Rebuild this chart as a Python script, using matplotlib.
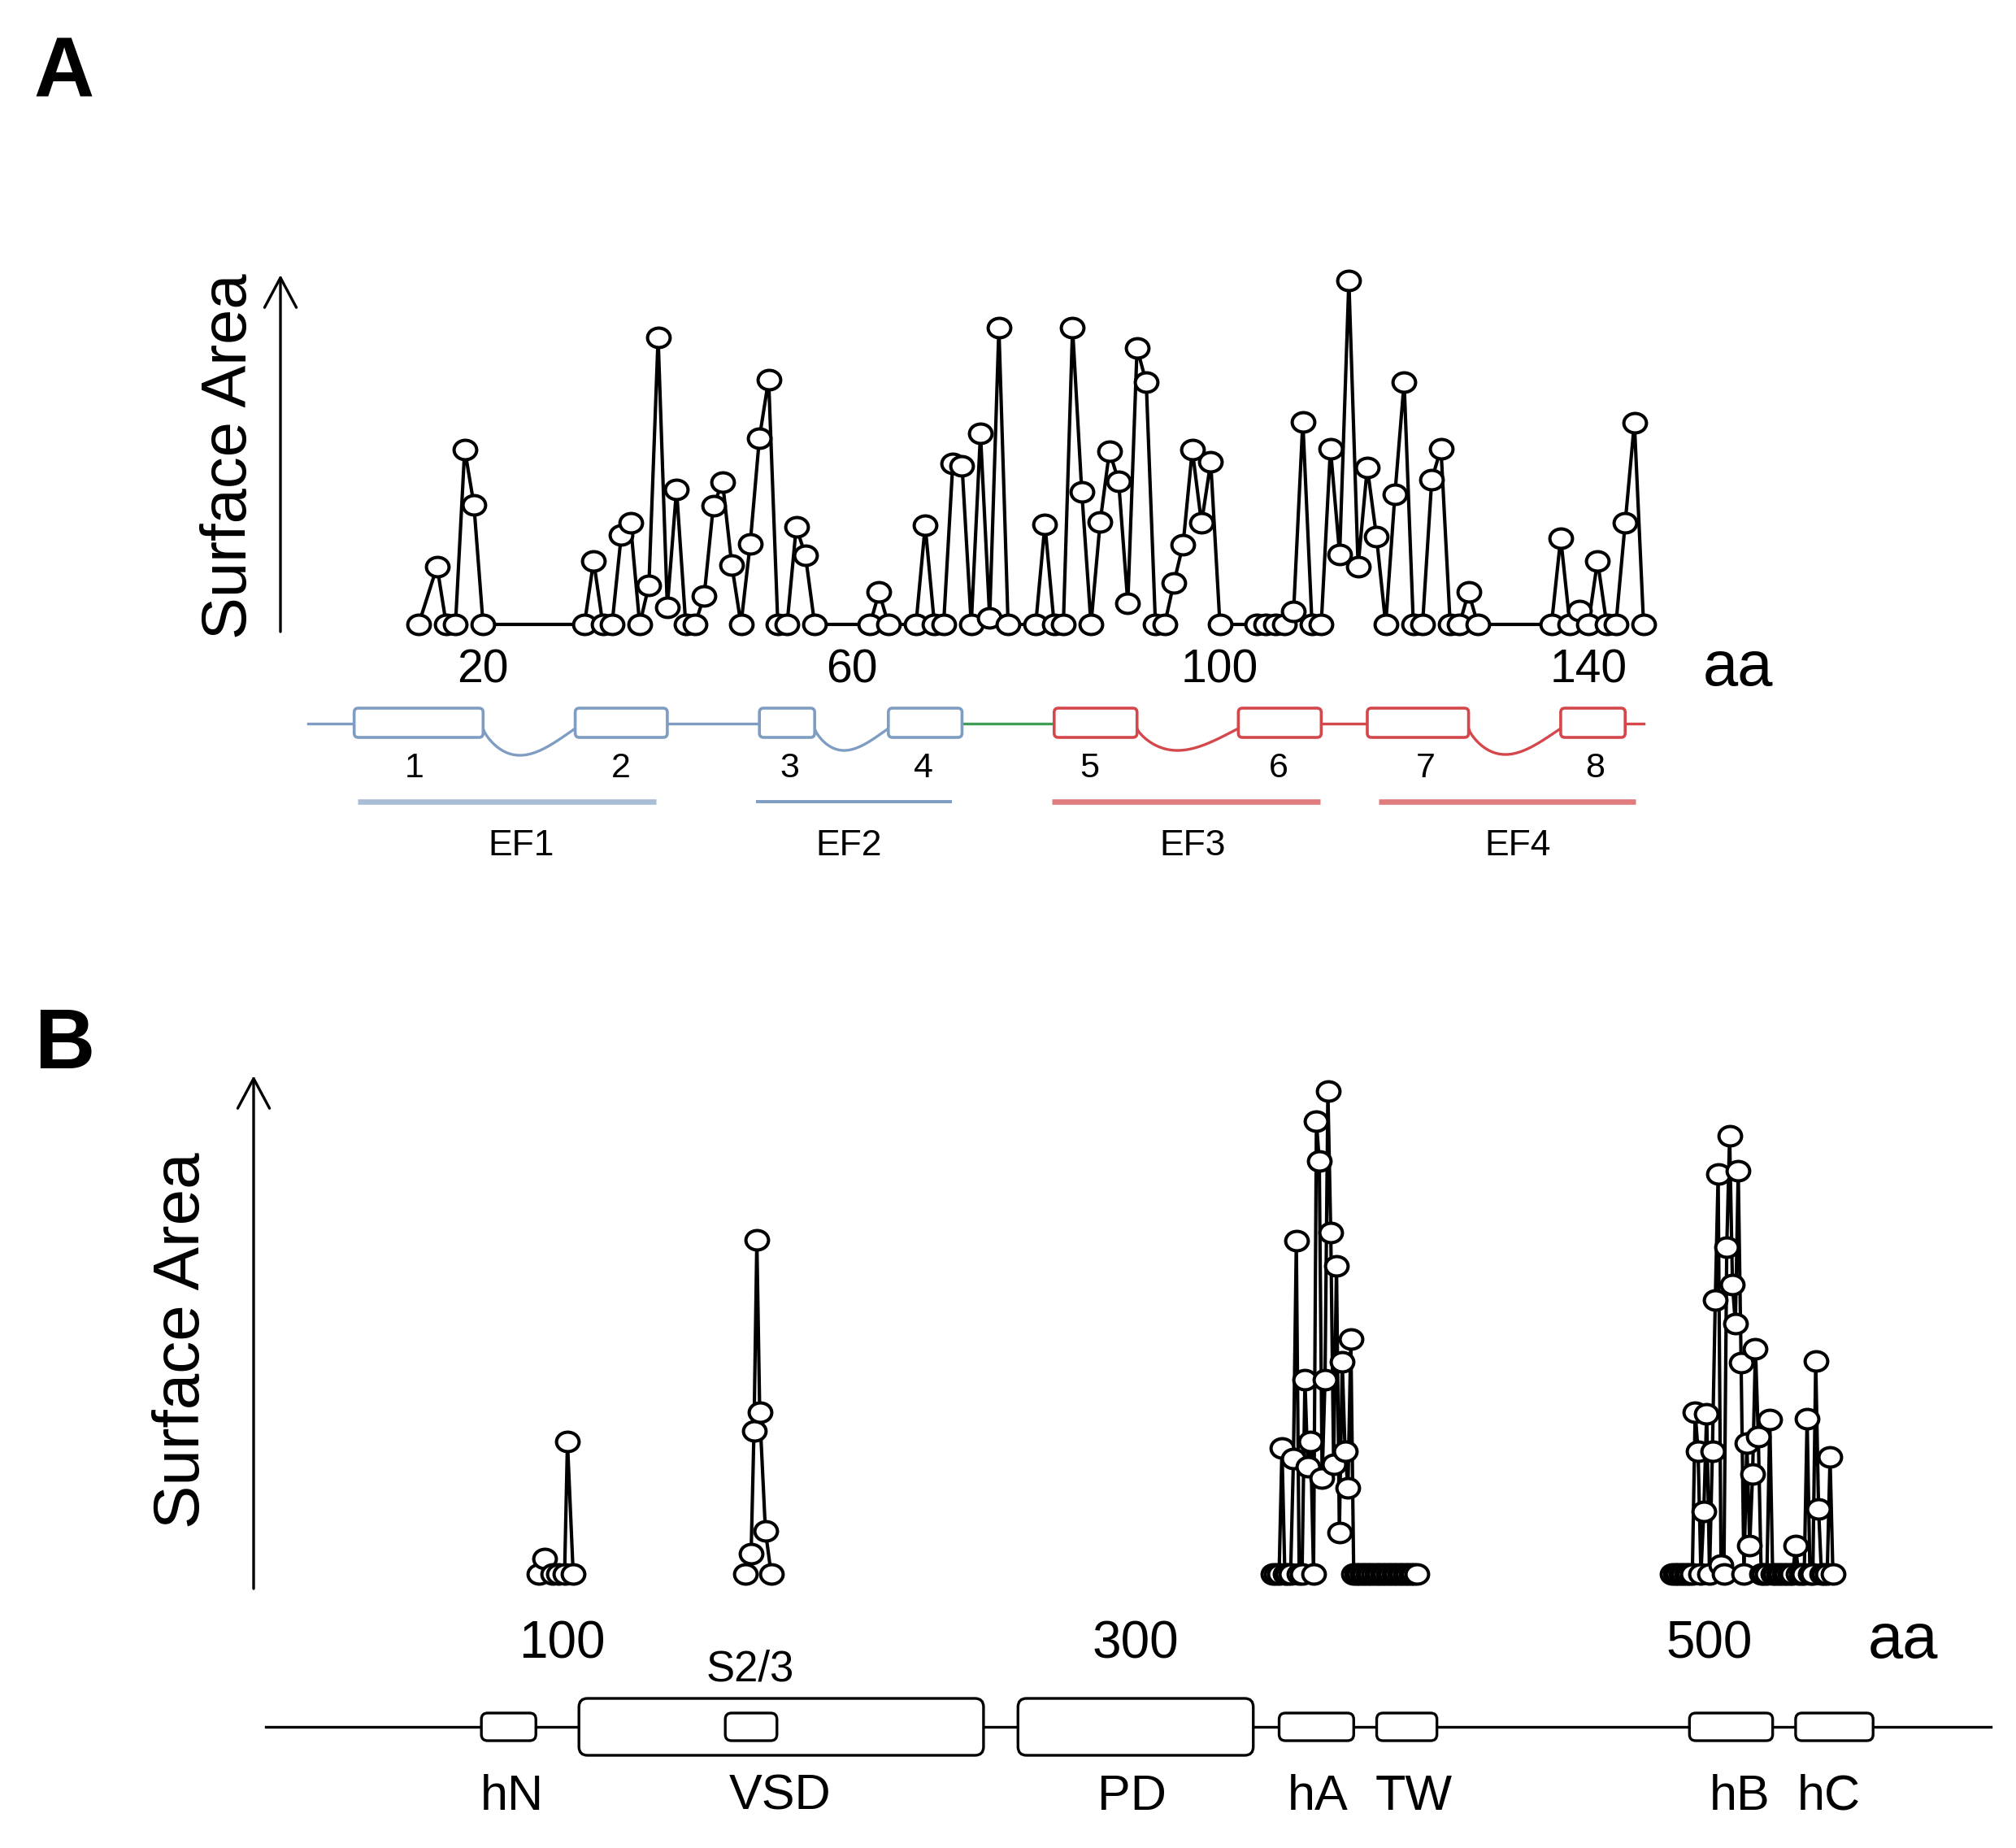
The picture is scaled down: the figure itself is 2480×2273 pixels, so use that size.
import numpy as np
import matplotlib
matplotlib.use('Agg')
import matplotlib.pyplot as plt
from matplotlib.path import Path
from matplotlib.transforms import Affine2D, blended_transform_factory
from matplotlib.patches import FancyBboxPatch
from matplotlib.markers import MarkerStyle

plt.rcParams['font.family'] = ['Liberation Sans', 'DejaVu Sans']

# ---------------- data: panel A (residue, surface area, arbitrary units) ----
a_res = [13, 15, 16, 17, 18, 19, 20,
         31, 32, 33, 34, 35, 36, 37, 38, 39, 40, 41, 42, 43, 44, 45, 46, 47,
         48, 49, 50, 51, 52, 53, 54, 55, 56,
         62, 63, 64,
         67, 68, 69, 70, 71, 72, 73, 74, 75, 76, 77,
         80, 81, 82, 83, 84, 85, 86, 87, 88, 89, 90, 91, 92, 93, 94, 95, 96,
         97, 98, 99, 100,
         104, 105, 106, 107, 108, 109, 110, 111, 112, 113, 114, 115, 116, 117,
         118, 119, 120, 121, 122, 123, 124, 125, 126, 127, 128,
         136, 137, 138, 139, 140, 141, 142, 143, 144, 145, 146]
a_area = [0, 16.8, 0, 0, 50.7, 34.7, 0,
          0, 18.4, 0, 0, 25.8, 29.3, 0, 11.3, 83.1, 5.0, 39.1, 0, 0, 8.2, 34.4, 41.1, 17.2,
          0, 23.4, 54.0, 70.9, 0, 0, 28.2, 19.9, 0,
          0, 9.3, 0,
          0, 28.6, 0, 0, 46.6, 46.0, 0, 55.2, 1.9, 85.8, 0,
          0, 28.9, 0, 0, 85.8, 38.4, 0, 29.7, 50.1, 41.5, 6.2, 79.9, 70.1, 0, 0, 12.1, 23.1,
          50.5, 29.3, 47.0, 0,
          0, 0, 0, 0, 3.8, 58.7, 0, 0, 50.9, 20.3, 99.5, 16.8, 45.4, 25.4,
          0, 37.6, 70.1, 0, 0, 41.9, 50.9, 0, 0, 9.3, 0,
          0, 25.0, 0, 3.9, 0, 18.4, 0, 0, 29.3, 58.4, 0]
a_ticks = [20, 60, 100, 140]

a_helix_start = [6, 30, 50, 64, 82, 102, 116, 137]
a_helix_end = [20, 40, 56, 72, 91, 111, 127, 144]
a_helix_label_x = [12.5, 35, 53.3, 67.8, 85.8, 106.4, 122.3, 140.7]
a_chain = [1, 146]
a_ef_names = ['EF1', 'EF2', 'EF3', 'EF4']
a_ef_start = [6.4, 49.6, 81.8, 117.2]
a_ef_end = [38.8, 70.9, 110.9, 145.1]
a_ef_label_x = [24.1, 59.7, 97.0, 132.3]

# ---------------- data: panel B -------------------------------------------
b_res_1 = [92, 94, 97, 99, 101, 102, 104]
b_area_1 = [0, 3.2, 0, 0, 0, 27.2, 0]
b_res_2 = [164, 166, 167, 168, 169, 171, 173]
b_area_2 = [0, 4.1, 29.4, 68.7, 33.3, 8.8, 0]
b_res_3 = list(range(348, 399))
b_area_3 = [0, 0, 0, 25.9, 0, 0, 0, 23.8, 68.5, 0, 0, 39.9, 22.1, 27.3, 0, 93.1,
            84.9, 19.7, 39.9, 99.3, 70.2, 22.5, 63.4, 8.5, 43.6, 25.2, 17.7, 48.4,
            0, 0, 0, 0, 0, 0, 0, 0, 0, 0, 0, 0, 0, 0, 0, 0, 0, 0, 0, 0, 0, 0, 0]
b_res_4 = list(range(487, 544))
b_area_4 = [0, 0, 0, 0, 0, 0, 0, 0,
            33.3, 25.3, 0, 12.8, 33.0, 0, 25.3, 56.3, 82.2, 1.9, 0, 67.2, 90.2,
            59.5, 51.5, 82.9, 43.5, 0, 26.9, 5.8, 20.5, 46.4, 28.2, 0, 0, 0, 31.7,
            0, 0, 0, 0, 0, 0, 0, 0, 5.8, 0, 0, 0, 32.0, 0, 0, 43.8, 13.4, 0, 0, 0,
            24.0, 0]
b_ticks = [100, 300, 500]

b_chain = [-3, 598]
b_dom_names = ['hN', 'VSD', 'S2/3', 'PD', 'hA', 'TW', 'hB', 'hC']
b_dom_start = [72, 106, 157, 259, 350, 384, 493, 530]
b_dom_end = [91, 247, 175, 341, 376, 405, 522, 557]
b_dom_big = [False, True, False, True, False, False, False, False]
b_dom_label_x = [82.7, 176, 165.7, 298.6, 363.5, 396.9, 510.5, 541.6]

# ---------------- figure ----------------------------------------------------
W, H = 2480, 2273
DPI = 200
fig = plt.figure(figsize=(W / DPI, H / DPI), dpi=DPI)
fig.patch.set_facecolor('white')

ov = fig.add_axes([0, 0, 1, 1])
ov.set_xlim(0, W)
ov.set_ylim(H, 0)
ov.axis('off')


def data_axes(x_lim, y_lim, px_x0, px_per_x, px_y0, px_per_y):
    left = px_x0 + x_lim[0] * px_per_x
    right = px_x0 + x_lim[1] * px_per_x
    bottom = px_y0 - y_lim[0] * px_per_y
    top = px_y0 - y_lim[1] * px_per_y
    ax = fig.add_axes([left / W, 1 - bottom / H, (right - left) / W, (bottom - top) / H])
    ax.set_xlim(*x_lim)
    ax.set_ylim(*y_lim)
    ax.axis('off')
    ax.patch.set_alpha(0)
    return ax


ell = Path.unit_circle().transformed(Affine2D().scale(1.0, 0.86))
mk = MarkerStyle(ell)
mkw = dict(marker=mk, ms=10.0, mfc='white', mec='black', mew=1.45,
           color='black', lw=1.5, clip_on=False)

BLUE = '#7f9dc2'
BLUE_L = '#a9bdd5'
RED = '#d4474a'
RED_L = '#e07c7e'
GREEN = '#3f9e55'

arrow_props = dict(arrowstyle='->,head_length=0.6,head_width=0.32',
                   lw=1.2, color='black', mutation_scale=22,
                   shrinkA=0, shrinkB=0)

# ---------------- panel A ---------------------------------------------------
axA = data_axes((0, 160), (-10, 110), 367.7, 11.33, 768, 4.25)
axA.plot(a_res, a_area, **mkw)
trA = blended_transform_factory(axA.transData, ov.transData)

for t in a_ticks:
    axA.text(t, 825, str(t), transform=trA, ha='center', va='center', fontsize=20.5)
ov.text(2138, 822, 'aa', ha='center', va='center', fontsize=28)

ov.text(79, 92, 'A', ha='center', va='center', fontsize=37, fontweight='bold')
ov.text(283, 561, 'Surface Area', rotation=90, ha='center', va='center', fontsize=28)
ov.annotate('', xy=(345, 338), xytext=(345, 777), arrowprops=arrow_props)

# domain diagram A
yc, yt, yb = 890, 871, 907
helix_col = [BLUE, BLUE, BLUE, BLUE, RED, RED, RED, RED]
seg = [(a_chain[0], a_helix_start[0], BLUE),
       (a_helix_end[1], a_helix_start[2], BLUE),
       (a_helix_end[3], a_helix_start[4], GREEN),
       (a_helix_end[5], a_helix_start[6], RED),
       (a_helix_end[7], a_chain[1], RED)]
for x0, x1, c in seg:
    axA.plot([x0, x1], [yc, yc], transform=trA, color=c, lw=1.2, clip_on=False)
depths = [33, 27, 27, 32]
for k, i in enumerate([0, 2, 4, 6]):
    x0, x1 = a_helix_end[i], a_helix_start[i + 1]
    t = np.linspace(0, 1, 80)
    s = t ** 0.756
    yy = (yc + 6) + depths[k] * np.sin(np.pi * s)
    xx = x0 + (x1 - x0) * t
    axA.plot(xx, yy, transform=trA, color=helix_col[i], lw=1.2, clip_on=False)
for i in range(8):
    x0, x1 = a_helix_start[i], a_helix_end[i]
    p = FancyBboxPatch((x0, yt), x1 - x0, yb - yt,
                       boxstyle='round,pad=0,rounding_size=0.45',
                       mutation_aspect=11.33, transform=trA,
                       fc='white', ec=helix_col[i], lw=1.3, clip_on=False, zorder=3)
    axA.add_patch(p)
    axA.text(a_helix_label_x[i], 945, str(i + 1), transform=trA,
             ha='center', va='center', fontsize=15.5)
ef_col = [BLUE_L, BLUE, RED_L, RED_L]
ef_lw = [2.4, 1.4, 2.4, 2.4]
for i in range(4):
    axA.plot([a_ef_start[i], a_ef_end[i]], [986, 986], transform=trA,
             color=ef_col[i], lw=ef_lw[i], clip_on=False, solid_capstyle='butt')
    axA.text(a_ef_label_x[i], 1040, a_ef_names[i], transform=trA,
             ha='center', va='center', fontsize=16)

# ---------------- panel B ---------------------------------------------------
axB = data_axes((0, 600), (-10, 110), 338, 3.53, 1936, 5.98)
for xs, ys in [(b_res_1, b_area_1), (b_res_2, b_area_2),
               (b_res_3, b_area_3), (b_res_4, b_area_4)]:
    axB.plot(xs, ys, **mkw)
trB = blended_transform_factory(axB.transData, ov.transData)

for t in b_ticks:
    axB.text(t, 2022, str(t), transform=trB, ha='center', va='center', fontsize=23)
ov.text(2341, 2018, 'aa', ha='center', va='center', fontsize=28)

ov.text(79, 1288, 'B', ha='center', va='center', fontsize=37, fontweight='bold')
ov.text(224, 1649, 'Surface Area', rotation=90, ha='center', va='center', fontsize=28.8)
ov.annotate('', xy=(312, 1323), xytext=(312, 1954), arrowprops=arrow_props)

ycB = 2124
axB.plot(b_chain, [ycB, ycB], transform=trB, color='black', lw=1.2, clip_on=False)
for i, name in enumerate(b_dom_names):
    x0, x1 = b_dom_start[i], b_dom_end[i]
    if b_dom_big[i]:
        yt2, yb2, rs = 2089, 2159, 3.0
    else:
        yt2, yb2, rs = 2107, 2141, 2.2
    p = FancyBboxPatch((x0, yt2), x1 - x0, yb2 - yt2,
                       boxstyle='round,pad=0,rounding_size=%g' % rs,
                       mutation_aspect=3.53, transform=trB,
                       fc='white', ec='black', lw=1.2, clip_on=False,
                       zorder=4 if name == 'S2/3' else 3)
    axB.add_patch(p)
    if name == 'S2/3':
        axB.text(b_dom_label_x[i], 2053, name, transform=trB,
                 ha='center', va='center', fontsize=19)
    else:
        axB.text(b_dom_label_x[i], 2210, name, transform=trB,
                 ha='center', va='center', fontsize=22)

fig.savefig('out.png', dpi=DPI, facecolor='white')
